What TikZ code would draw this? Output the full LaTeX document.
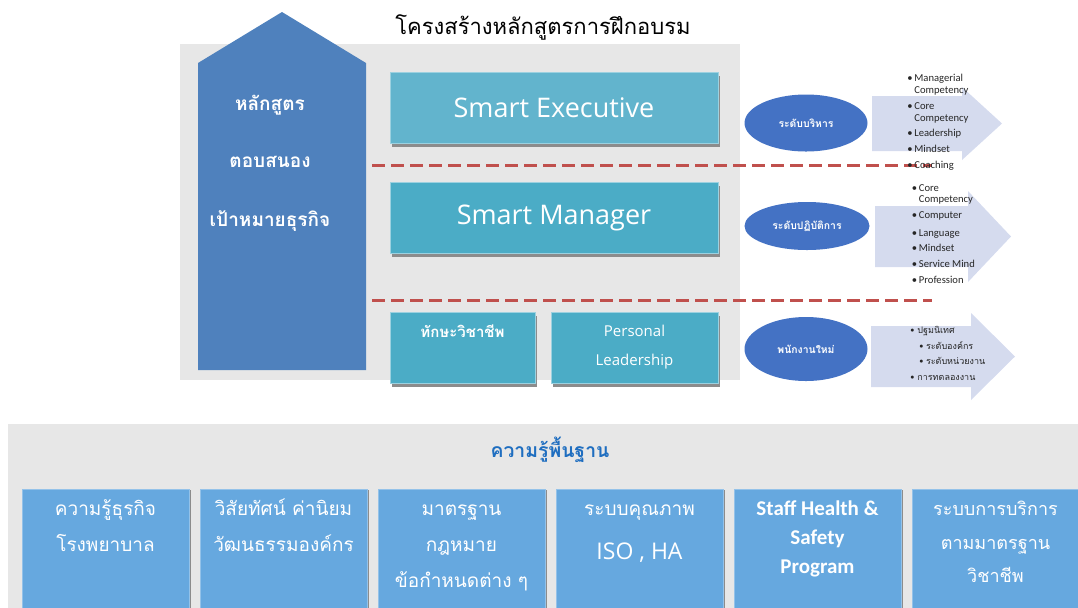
\documentclass[tikz,border=0pt]{standalone}
\usepackage{fontspec}
\setmainfont{Carlito}
\newfontfamily\thai[Script=Thai]{Loma}
\newfontfamily\osans{Open Sans}
\usetikzlibrary{shapes.geometric,shadows,positioning}
\definecolor{panelgray}{HTML}{E7E7E7}
\definecolor{housecol}{HTML}{4F81BD}
\definecolor{execcol}{HTML}{62B4CD}
\definecolor{tealcol}{HTML}{4BACC6}
\definecolor{ovalcol}{HTML}{4472C4}
\definecolor{arrowcol}{HTML}{D5DBEE}
\definecolor{basecol}{HTML}{66A8DF}
\definecolor{titleblue}{HTML}{1F6EC0}
\definecolor{dashred}{HTML}{C0504D}
\tikzstyle{panel} = [rectangle, fill=panelgray, inner sep=0pt]
\tikzstyle{housetxt} = [text=white, inner sep=0pt, font=\thai\bfseries\fontsize{9.5}{12}\selectfont]
\tikzstyle{smartbox} = [rectangle, fill=tealcol, draw=tealcol!55!white, line width=0.4pt, text=white, minimum width=164pt, minimum height=35.5pt, drop shadow={shadow xshift=0.8pt, shadow yshift=-1.8pt, fill=black!45, opacity=1}, font=\osans\fontsize{13.5}{16}\selectfont]
\tikzstyle{skillbox} = [smartbox, minimum width=72.5pt, align=center, font=\osans\fontsize{7.5}{14.5}\selectfont]
\tikzstyle{level} = [ellipse, fill=ovalcol, text=white, inner sep=0pt, font=\thai\bfseries\fontsize{5.2}{6}\selectfont]
\tikzstyle{bullets} = [anchor=base west, inner sep=0pt, align=left, text=black!85]
\tikzstyle{sepline} = [draw=dashred, line width=1.5pt, dash pattern=on 6.5pt off 3pt]
\tikzstyle{basebox} = [rectangle, fill=basecol, draw=basecol!70!white, line width=0.3pt, minimum width=83.5pt, minimum height=60.5pt, drop shadow={shadow xshift=1pt, shadow yshift=-0.5pt, fill=black!45, opacity=1}]
\tikzstyle{basetxt} = [text=white, inner sep=0pt, align=center, anchor=base, font=\thai\fontsize{9.5}{18}\selectfont]
\newcommand{\bitem}[1]{\makebox[3.5pt][l]{\textbullet}#1}
\newcommand{\bsub}[1]{\hspace*{4.5pt}\makebox[3.3pt][l]{\textbullet}#1}

\begin{document}
\begin{tikzpicture}[x=0.5pt, y=-0.5pt]
	\useasboundingbox (0,0) rectangle (1078,607);
	
	% upper part
	\node [panel, minimum width=280pt, minimum height=168pt] (toppanel) at (460,212) {};
	\node [anchor=base, font=\thai\fontsize{11}{13}\selectfont] (title) at (543,34) {โครงสร้างหลักสูตรการฝึกอบรม};
	\fill [housecol] (198,370) -- (198,63) -- (282,12) -- (366,63) -- (366,370) -- cycle;
	\node [housetxt, anchor=base] (h1) at (270,110) {หลักสูตร};
	\node [housetxt, anchor=base] (h2) at (270,167) {ตอบสนอง};
	\node [housetxt, anchor=base] (h3) at (270,226) {เป้าหมายธุรกิจ};
	
	\node [smartbox, fill=execcol] (exec) at (554,107.5) {Smart Executive};
	\node [smartbox, below of=exec, node distance=55pt] (mgr) {Smart Manager};
	\node [skillbox] (skill) at (462.5,347.5) {};
	\node [text=white, anchor=base, font=\thai\bfseries\fontsize{7.5}{8}\selectfont] (skilltxt) at (462.5,337) {ทักษะวิชาชีพ};
	\node [skillbox, minimum width=83.5pt] (lead) at (634.5,347.5) {Personal\\Leadership};
	
	\coordinate (dl1) at (372,165);
	\coordinate (dr1) at (932,165);
	\coordinate (dl2) at (372,300);
	\coordinate (dr2) at (932,300);
	\draw [sepline] (dl1) -- (dr1);
	\draw [sepline] (dl2) -- (dr2);
	
	% levels
	\node [level, minimum width=61.5pt, minimum height=28.5pt] (exelevel) at (806,123) {ระดับบริหาร};
	\node [level, minimum width=62.5pt, minimum height=24pt] (oplevel) at (807,226) {ระดับปฏิบัติการ};
	\node [level, minimum width=61.5pt, minimum height=32pt] (newstaff) at (806,349) {พนักงานใหม่};
	
	\fill [arrowcol] (872,96) -- (962,96) -- (962,87) -- (1002,123.5) -- (962,160) -- (962,151) -- (872,151) -- cycle;
	\fill [arrowcol] (875,206) -- (968,206) -- (968,191) -- (1011,236.5) -- (968,282) -- (968,267) -- (875,267) -- cycle;
	\fill [arrowcol] (871,326) -- (971,326) -- (971,313) -- (1015,356.5) -- (971,400) -- (971,387) -- (871,387) -- cycle;
	
	\node [bullets, font=\fontsize{5.3}{6.3}\selectfont] (list1) at (907,168) {\bitem{Managerial}\\\hspace*{3.5pt}Competency\\[1.5pt]\bitem{Core}\\\hspace*{3.5pt}Competency\\[1pt]\bitem{Leadership}\\[1.5pt]\bitem{Mindset}\\[1.7pt]\bitem{Coaching}};
	\node [bullets, font=\fontsize{5.3}{5.8}\selectfont] (list2) at (911.5,283.5) {\bitem{Core}\\\hspace*{3.5pt}Competency\\[2.2pt]\bitem{Computer}\\[3pt]\bitem{Language}\\[1.7pt]\bitem{Mindset}\\[2.2pt]\bitem{Service Mind}\\[2.2pt]\bitem{Profession}};
	\node [bullets, font=\thai\fontsize{4.5}{7.8}\selectfont] (list3) at (910,380.5) {\bitem{ปฐมนิเทศ}\\\bsub{ระดับองค์กร}\\\bsub{ระดับหน่วยงาน}\\\bitem{การทดลองงาน}};
	
	% base knowledge
	\node [panel, minimum width=536pt, minimum height=92pt] (basepanel) at (544,516) {};
	\node [anchor=base, text=titleblue, font=\thai\bfseries\fontsize{9.7}{12}\selectfont] (basetitle) at (550,457) {ความรู้พื้นฐาน};
	
	\node [basebox] (b1) at (105.5,549.5) {};
	\node [basebox, right of=b1, node distance=89pt] (b2) {};
	\node [basebox, right of=b2, node distance=89pt] (b3) {};
	\node [basebox, right of=b3, node distance=89pt] (b4) {};
	\node [basebox, right of=b4, node distance=89pt] (b5) {};
	\node [basebox, right of=b5, node distance=89pt] (b6) {};
	
	\node [basetxt] (t1) at ([yshift=-31.5pt]b1.north) {ความรู้ธุรกิจ\\โรงพยาบาล};
	\node [basetxt] (t2) at ([yshift=-31.5pt]b2.north) {วิสัยทัศน์ ค่านิยม\\วัฒนธรรมองค์กร};
	\node [basetxt] (t3) at ([yshift=-49.5pt]b3.north) {มาตรฐาน\\กฎหมาย\\ข้อกำหนดต่าง ๆ};
	\node [basetxt] (t4) at ([yshift=-35.5pt]b4.north) {ระบบคุณภาพ\\[4pt]{\osans\fontsize{11.5}{13}\selectfont ISO , HA}};
	\node [basetxt, font=\bfseries\fontsize{10.5}{14.5}\selectfont] (t5) at ([yshift=-42.5pt]b5.north) {Staff Health \&\\Safety\\Program};
	\node [basetxt, font=\thai\fontsize{9}{16.75}\selectfont] (t6) at ([yshift=-47pt]b6.north) {ระบบการบริการ\\ตามมาตรฐาน\\วิชาชีพ};
\end{tikzpicture}
\end{document}
